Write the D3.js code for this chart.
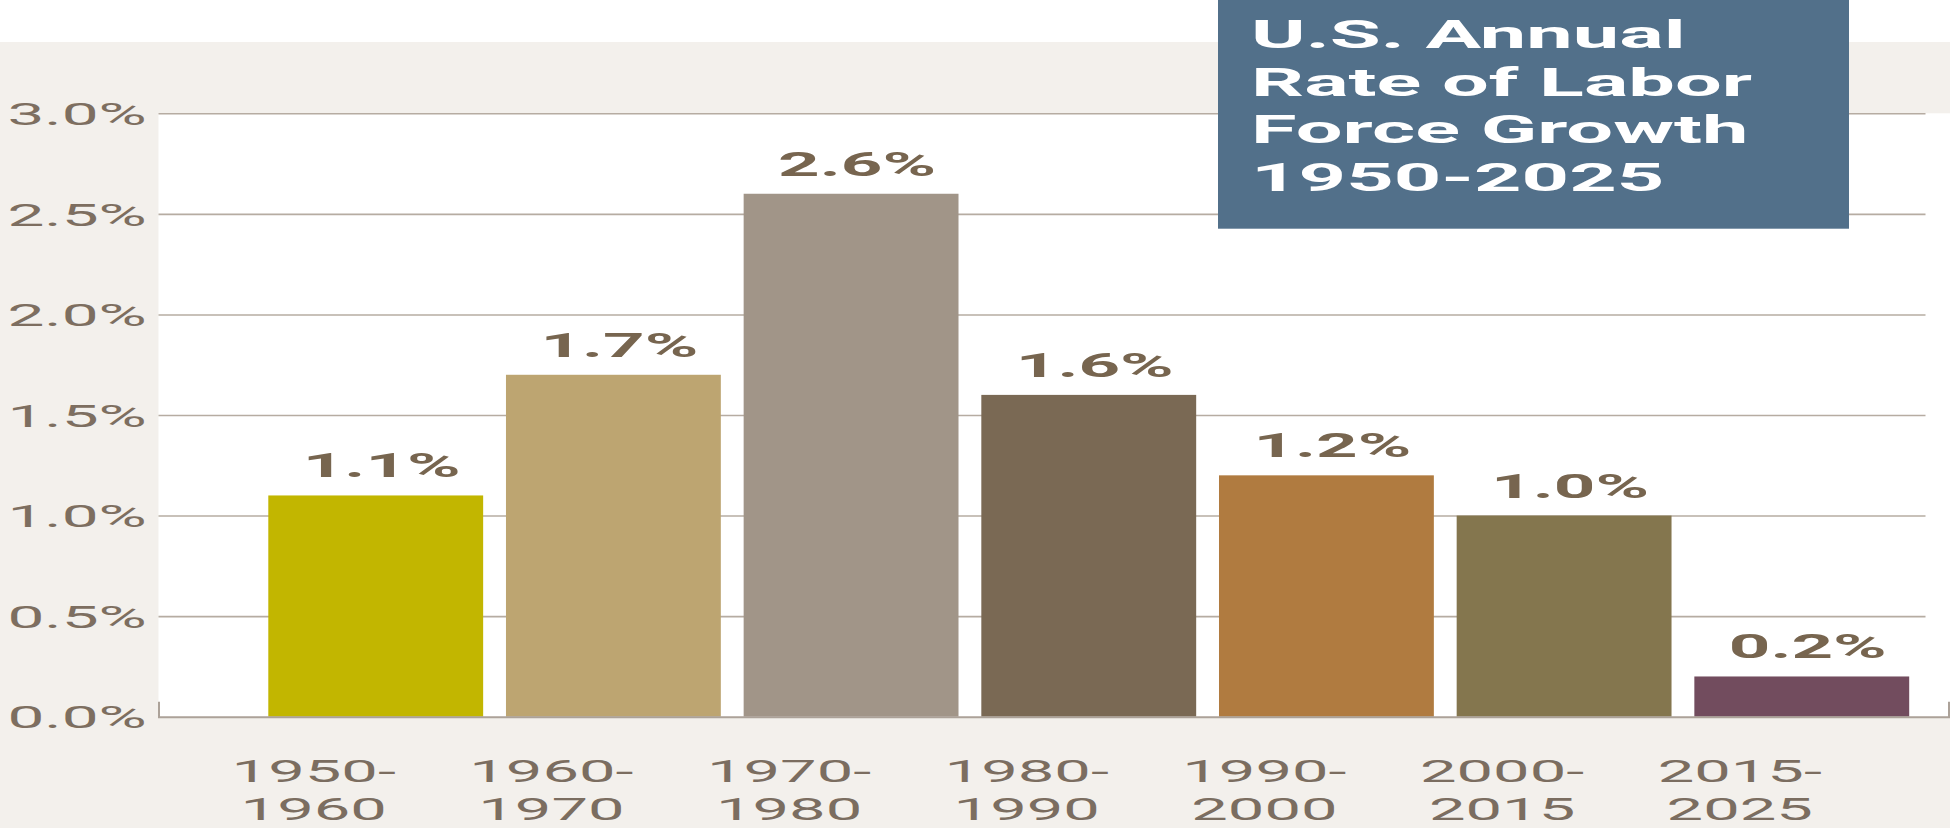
<!DOCTYPE html>
<html>
<head>
<meta charset="utf-8">
<script src="https://cdn.jsdelivr.net/npm/d3@7/dist/d3.min.js"></script>
<style>
  html, body { margin: 0; padding: 0; background: #ffffff; overflow: hidden; }
  svg { display: block; }
  text { font-family: Roboto, "DejaVu Sans", sans-serif; }
</style>
</head>
<body>
<svg id="chart" width="1950" height="828"></svg>
<script>
// Decades / periods on the x axis
const categories = ["1950-1960", "1960-1970", "1970-1980", "1980-1990", "1990-2000", "2000-2015", "2015-2025"];
// Annual labor force growth, percent
const values = [1.1, 1.7, 2.6, 1.6, 1.2, 1.0, 0.2];
// Gridline / tick values, percent
const yTicks = [0, 0.5, 1.0, 1.5, 2.0, 2.5, 3.0];
// Title block lines
const titleLines = ["U.S. Annual", "Rate of Labor", "Force Growth", "1950-2025"];

const barColors = ["#c2b600", "#bda571", "#a19588", "#7a6954", "#b07b40", "#84764e", "#724c5e"];

const W = 1950, H = 828;
const plot = { left: 158.5, top: 113.3, bottom: 716.7, right: 1950, gridRight: 1925.5, axisRight: 1948.5 };
// horizontal widening applied to the lettering
const TICK_STRETCH = 2.12;
const CAT_STRETCH = 2.1;
const VALUE_STRETCH = 2.2;
const TITLE_STRETCH = 2.1;

const svg = d3.select("#chart");

// Page panels
svg.append("rect").attr("x", 0).attr("y", 42).attr("width", W).attr("height", H - 42).attr("fill", "#f3f0ec");
svg.append("rect").attr("x", plot.left).attr("y", plot.top)
  .attr("width", plot.right - plot.left).attr("height", plot.bottom - plot.top).attr("fill", "#ffffff");

const y = d3.scaleLinear().domain([0, 3]).range([plot.bottom, plot.top]);
const x = d3.scaleBand().domain(categories).range([268.3, 1909.2]).paddingInner(0.096).paddingOuter(0);
const color = d3.scaleOrdinal().domain(categories).range(barColors);

// Horizontal gridlines
const grid = svg.append("g").attr("transform", `translate(${plot.left},0)`)
  .call(d3.axisLeft(y).tickValues(yTicks.filter(t => t > 0)).tickSize(-(plot.gridRight - plot.left)).tickFormat(""));
grid.select(".domain").remove();
grid.selectAll(".tick line").attr("stroke", "#b6aca2").attr("stroke-width", 1.6);

// Y tick labels
const yLab = svg.append("g").attr("transform", `translate(${plot.left},0)`)
  .call(d3.axisLeft(y).tickValues(yTicks).tickSize(0).tickFormat(d => d3.format(".1f")(d) + "%"));
yLab.select(".domain").remove();
yLab.selectAll(".tick text")
  .attr("x", 0).attr("dy", "0.36em")
  .attr("transform", `translate(-11.8,0) scale(${TICK_STRETCH},1)`)
  .attr("text-anchor", "end")
  .attr("font-size", 31)
  .attr("font-family", "Roboto")
  .attr("fill", "#7d6e60");

// Bars
svg.append("g").selectAll("rect").data(values).join("rect")
  .attr("x", (d, i) => x(categories[i]))
  .attr("y", d => y(d))
  .attr("width", x.bandwidth())
  .attr("height", d => y(0) - y(d))
  .attr("fill", (d, i) => color(categories[i]));

// Baseline with upturned end ticks
const base = d3.scaleLinear().domain([0, 1]).range([plot.left, plot.axisRight]);
const baseAxis = svg.append("g").attr("transform", `translate(0,${plot.bottom})`)
  .call(d3.axisBottom(base).tickValues([]).tickSizeOuter(-15));
baseAxis.select(".domain").attr("stroke", "#aca299").attr("stroke-width", 2).attr("fill", "none");

// Value labels above bars
svg.append("g").selectAll("text").data(values).join("text")
  .attr("transform", (d, i) => `translate(${x(categories[i]) + x.bandwidth() / 2 + 6},${y(d) - 18}) scale(${VALUE_STRETCH},1)`)
  .attr("text-anchor", "middle")
  .attr("font-size", 33)
  .attr("font-weight", 700)
  .attr("fill", "#77654f")
  .text(d => d3.format(".1f")(d) + "%");

// Category labels, two lines each (period start with hyphen, then period end)
const catText = svg.append("g").selectAll("text").data(categories).join("text")
  .attr("transform", d => `translate(${x(d) + x.bandwidth() / 2 - 62},782.3) scale(${CAT_STRETCH},1)`)
  .attr("text-anchor", "middle")
  .attr("font-size", 31)
  .attr("fill", "#7b6d60");
catText.selectAll("tspan")
  .data(d => [d.slice(0, d.indexOf("-") + 1), d.slice(d.indexOf("-") + 1)])
  .join("tspan")
  .attr("x", 0)
  .attr("dy", (p, j) => j === 0 ? 0 : 37.7)
  .text(p => p);

// Title block
svg.append("rect").attr("x", 1218).attr("y", 0).attr("width", 631).attr("height", 228.7).attr("fill", "#52708a");
svg.append("text")
  .attr("transform", `translate(1251,48.3) scale(${TITLE_STRETCH},1)`)
  .attr("font-size", 39.5)
  .attr("font-weight", 700)
  .attr("fill", "#ffffff")
  .selectAll("tspan").data(titleLines).join("tspan")
  .attr("x", 0)
  .attr("dy", (d, i) => i === 0 ? 0 : 47.5)
  .text(d => d);
</script>
</body>
</html>
